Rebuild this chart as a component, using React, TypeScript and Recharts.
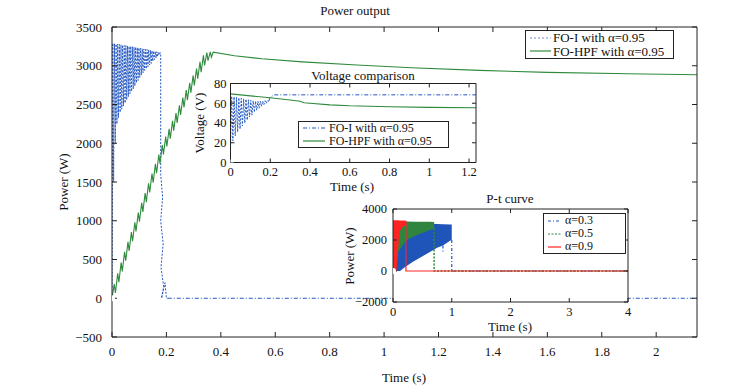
import React from 'react';
import { ComposedChart, Line, Area, XAxis, YAxis, CartesianGrid, Legend } from 'recharts';

const FONT = '"Liberation Serif", "Times New Roman", Times, serif';
const BLUE = '#2358c4';
const LBLUE = '#6f8fd8';
const GREEN = '#2e8b3c';
const RED = '#ff2424';
const AXIS = '#222';

// ---------------- main chart: Power output ----------------
const mainTimeTicks = [0, 0.2, 0.4, 0.6, 0.8, 1, 1.2, 1.4, 1.6, 1.8, 2];
const mainPowerTicks = [-500, 0, 500, 1000, 1500, 2000, 2500, 3000, 3500];
const mainLegendLabels = ['FO-I with α=0.95', 'FO-HPF with α=0.95'];

// FO-I (alpha = 0.95): [time s, power W]
const foIPower = [
  [0, 0], [0.003, 3290], [0.006, 1500], [0.009, 3285], [0.012, 2000], [0.015, 3280], [0.018, 2250],
  [0.021, 3280], [0.024, 2330], [0.027, 3275], [0.03, 2400], [0.033, 3270], [0.036, 2440], [0.039, 3265],
  [0.042, 2480], [0.045, 3260], [0.048, 2520], [0.051, 3260], [0.054, 2560], [0.057, 3255], [0.06, 2600],
  [0.063, 3250], [0.066, 2640], [0.069, 3250], [0.072, 2670], [0.075, 3245], [0.078, 2700], [0.081, 3240],
  [0.084, 2740], [0.087, 3240], [0.09, 2780], [0.093, 3235], [0.096, 2810], [0.099, 3230], [0.102, 2850],
  [0.105, 3225], [0.108, 2880], [0.111, 3220], [0.114, 2910], [0.117, 3215], [0.12, 2940], [0.123, 3210],
  [0.126, 2960], [0.129, 3210], [0.132, 2990], [0.135, 3205], [0.138, 3010], [0.141, 3200], [0.144, 3030],
  [0.147, 3195], [0.15, 3060], [0.153, 3190], [0.156, 3080], [0.159, 3185], [0.162, 3100], [0.165, 3180],
  [0.168, 3120], [0.171, 3175], [0.174, 3140], [0.177, 3170],
  [0.179, 3150], [0.179, 1600], [0.186, 1300], [0.179, 1000], [0.188, 700], [0.18, 400], [0.19, 150],
  [0.182, 0], [0.195, 200], [0.2, 0], [0.205, 0],
];
const foIPowerFlat = [[0.205, 0], [2.15, 0]];

// FO-HPF (alpha = 0.95): [time s, power W]
const foHpfPower = [
  [0, 0], [0.0084, 183], [0.0126, 70], [0.021, 322], [0.0252, 207], [0.0336, 460], [0.0378, 346],
  [0.0462, 599], [0.0504, 484], [0.0588, 728], [0.063, 610], [0.0714, 854], [0.0756, 736], [0.084, 980],
  [0.0882, 862], [0.0966, 1106], [0.1008, 988], [0.1092, 1232], [0.1134, 1114], [0.1218, 1358],
  [0.126, 1240], [0.1344, 1484], [0.1386, 1366], [0.147, 1610], [0.1512, 1492], [0.1596, 1734],
  [0.1638, 1614], [0.1722, 1855], [0.1764, 1736], [0.1848, 1977], [0.189, 1857], [0.1974, 2085],
  [0.2016, 1958], [0.21, 2186], [0.2142, 2060], [0.2226, 2288], [0.2268, 2162], [0.2352, 2390],
  [0.2394, 2263], [0.2478, 2491], [0.252, 2365], [0.2604, 2589], [0.2646, 2461], [0.273, 2685],
  [0.2772, 2556], [0.2856, 2780], [0.2898, 2652], [0.2982, 2875], [0.3024, 2746], [0.3108, 2964],
  [0.315, 2832], [0.3234, 3050], [0.3276, 2918], [0.336, 3135], [0.3402, 3003], [0.3486, 3170],
  [0.3528, 3065], [0.3612, 3180], [0.3654, 3110], [0.372, 3175],
  [0.45, 3130], [0.55, 3090], [0.7, 3050], [0.9, 3010], [1.1, 2975], [1.35, 2940], [1.6, 2915],
  [1.9, 2897], [2.15, 2883],
];

// ---------------- inset 1: Voltage comparison ----------------
const voltTimeTicks = [0, 0.2, 0.4, 0.6, 0.8, 1, 1.2];
const voltTicks = [0, 20, 40, 60, 80];
const voltLegendLabels = ['FO-I with α=0.95', 'FO-HPF with α=0.95'];

const foIVoltOsc = [
  [0, 15], [0.006, 67], [0.012, 22], [0.018, 66.5], [0.024, 27], [0.03, 66], [0.036, 31], [0.042, 65.5],
  [0.048, 34], [0.054, 65], [0.06, 37], [0.066, 64.5], [0.072, 40], [0.078, 64], [0.084, 43], [0.09, 63.5],
  [0.096, 46], [0.102, 63], [0.108, 48], [0.114, 62.5], [0.12, 51], [0.126, 62], [0.132, 53], [0.138, 62],
  [0.144, 55], [0.15, 62], [0.156, 57], [0.162, 62], [0.168, 58.5], [0.174, 62.5], [0.18, 60], [0.186, 63],
  [0.192, 62],
];
const foIVoltFlat = [[0.192, 62], [0.2, 66], [0.22, 68.5], [1.235, 68.5]];
const foHpfVolt = [
  [0, 69.5], [0.1, 67.5], [0.2, 65.5], [0.3, 63.3], [0.35, 62], [0.37, 60.5], [0.4, 60], [0.5, 58.4],
  [0.6, 57.4], [0.8, 56.4], [1.0, 55.8], [1.235, 55.4],
];

// ---------------- inset 2: P-t curve ----------------
const ptTimeTicks = [0, 1, 2, 3, 4];
const ptPowerTicks = [-2000, 0, 2000, 4000];
const ptLegendLabels = ['α=0.3', 'α=0.5', 'α=0.9'];

// oscillation bands: [time, lower, upper]
const a03Band = [
  [0, 0, 3200], [0.12, 0, 3150], [0.2, 250, 3120], [0.34, 600, 3100], [0.57, 1100, 3070],
  [0.75, 1500, 3040], [0.85, 1650, 3020], [0.97, 1950, 3000], [1.0, 2000, 3000],
];
const a05Band = [
  [0, 0, 3250], [0.03, 60, 3230], [0.09, 1250, 3200], [0.23, 2000, 3190], [0.4, 2300, 3180],
  [0.63, 2650, 3170], [0.7, 2750, 3160],
];
const a09Band = [
  [0, 0, 3280], [0.06, 0, 3280], [0.09, 1500, 3270], [0.11, 2500, 3260], [0.15, 2800, 3260],
  [0.22, 2950, 3250],
];
const a03Tail = [[1.0, 2000], [1.0, 0], [4, 0]];
const a03Spike = [[0.85, 1650], [0.85, 1250]];
const a05Tail = [[0.7, 2750], [0.7, 0], [4, 0]];
const a09Tail = [[0.22, 3250], [0.22, 0], [4, 0]];

// anchor for the mirrored (box) axes
const boxAnchor = [[0, 0]];

// ---------------- helpers ----------------
const pts = (a: number[][]) => a.map(([t, v]) => ({ t, v }));
const band = (a: number[][]) => a.map(([t, lo, hi]) => ({ t, r: [lo, hi] }));
const minus = (v: number) => String(v).replace('-', '\u2212');
const blank = () => '';

type Item = { label: string; color: string; dash?: string; width?: number };

function LegendBox({ items, sampleW, gap, rowH, padL, padR, fontSize }: {
  items: Item[]; sampleW: number; gap: number; rowH: number; padL: number; padR: number; fontSize: number;
}) {
  return (
    <div style={{
      border: '1px solid #222', background: '#fff', padding: `0 ${padR}px 0 ${padL}px`,
      fontFamily: FONT, fontSize, color: '#111', boxSizing: 'border-box',
    }}>
      {items.map((it) => (
        <div key={it.label} style={{ display: 'flex', alignItems: 'center', height: rowH, whiteSpace: 'nowrap', overflow: 'hidden' }}>
          <svg width={sampleW} height={8} style={{ marginRight: gap, flex: 'none' }}>
            <line x1={0} y1={4} x2={sampleW} y2={4} stroke={it.color} strokeWidth={it.width ?? 1.2}
              strokeDasharray={it.dash} />
          </svg>
          <span style={{ lineHeight: `${rowH}px` }}>{it.label}</span>
        </div>
      ))}
    </div>
  );
}

function Txt({ x, y, children, rot, size = 13 }: { x: number; y: number; children: React.ReactNode; rot?: boolean; size?: number }) {
  return (
    <div style={{
      position: 'absolute', left: x, top: y, fontFamily: FONT, fontSize: size, lineHeight: 1,
      whiteSpace: 'nowrap', color: '#111',
      transform: `translate(-50%, -50%)${rot ? ' rotate(-90deg)' : ''}`,
    }}>{children}</div>
  );
}

const tickStyle = (size: number) => ({ fill: '#111', fontSize: size, fontFamily: FONT });

function MainChart() {
  const dom: [number, number] = [0, 2.15];
  const ydom: [number, number] = [-500, 3500];
  return (
    <ComposedChart width={750} height={390} margin={{ top: 26, right: 52, bottom: 23, left: 62 }}>
      <XAxis dataKey="t" type="number" domain={dom} ticks={mainTimeTicks} interval={0} height={30}
        tickSize={-5} tickMargin={15} stroke={AXIS} tick={tickStyle(13)} allowDataOverflow />
      <XAxis xAxisId="top" orientation="top" dataKey="t" type="number" domain={dom} ticks={mainTimeTicks}
        interval={0} height={1} tickSize={-5} tickMargin={0} stroke={AXIS} tickFormatter={blank} allowDataOverflow />
      <YAxis type="number" domain={ydom} ticks={mainPowerTicks} interval={0} width={50} tickSize={-5}
        tickMargin={15} stroke={AXIS} tick={tickStyle(13)} tickFormatter={minus} allowDataOverflow />
      <YAxis yAxisId="right" orientation="right" type="number" domain={ydom} ticks={mainPowerTicks}
        interval={0} width={1} tickSize={-5} tickMargin={0} stroke={AXIS} tickFormatter={blank} allowDataOverflow />
      <Line data={pts(boxAnchor)} xAxisId="top" yAxisId="right" dataKey="v" stroke="none" dot={false}
        activeDot={false} isAnimationActive={false} legendType="none" />
      <Line data={pts(foIPower)} dataKey="v" type="linear" stroke={BLUE} strokeWidth={1}
        strokeDasharray="2 1.5" dot={false} activeDot={false} isAnimationActive={false} name={mainLegendLabels[0]} />
      <Line data={pts(foIPowerFlat)} dataKey="v" type="linear" stroke={BLUE} strokeWidth={1}
        strokeDasharray="4 2 1 2" dot={false} activeDot={false} isAnimationActive={false} />
      <Line data={pts(foHpfPower)} dataKey="v" type="linear" stroke={GREEN} strokeWidth={1.1}
        dot={false} activeDot={false} isAnimationActive={false} name={mainLegendLabels[1]} />
      <Legend layout="horizontal" verticalAlign="middle" align="center"
        wrapperStyle={{ left: 525, top: 30, width: 149 }}
        content={() => (
          <LegendBox sampleW={21} gap={2} rowH={13.5} padL={4} padR={2} fontSize={13} items={[
            { label: mainLegendLabels[0], color: LBLUE, dash: '2 2' },
            { label: mainLegendLabels[1], color: GREEN },
          ]} />
        )} />
    </ComposedChart>
  );
}

function VoltChart() {
  const dom: [number, number] = [0, 1.235];
  const ydom: [number, number] = [0, 80];
  return (
    <ComposedChart width={300} height={130} margin={{ top: 22.5, right: 13, bottom: 7.5, left: 10.5 }}>
      <CartesianGrid horizontal={false} vertical={false} fill="#fff" />
      <XAxis dataKey="t" type="number" domain={dom} ticks={voltTimeTicks} interval={0} height={20}
        tickSize={-4} tickMargin={8.5} stroke={AXIS} tick={tickStyle(12.5)} allowDataOverflow />
      <XAxis xAxisId="top" orientation="top" dataKey="t" type="number" domain={dom} ticks={voltTimeTicks}
        interval={0} height={1} tickSize={-4} tickMargin={0} stroke={AXIS} tickFormatter={blank} allowDataOverflow />
      <YAxis type="number" domain={ydom} ticks={voltTicks} interval={0} width={30} tickSize={-4}
        tickMargin={8} stroke={AXIS} tick={tickStyle(12.5)} allowDataOverflow />
      <YAxis yAxisId="right" orientation="right" type="number" domain={ydom} ticks={voltTicks}
        interval={0} width={1} tickSize={-4} tickMargin={0} stroke={AXIS} tickFormatter={blank} allowDataOverflow />
      <Line data={pts(boxAnchor)} xAxisId="top" yAxisId="right" dataKey="v" stroke="none" dot={false}
        activeDot={false} isAnimationActive={false} legendType="none" />
      <Line data={pts(foIVoltOsc)} dataKey="v" type="linear" stroke={BLUE} strokeWidth={1}
        strokeDasharray="2 1.5" dot={false} activeDot={false} isAnimationActive={false} />
      <Line data={pts(foIVoltFlat)} dataKey="v" type="linear" stroke={BLUE} strokeWidth={1}
        strokeDasharray="4 2 1 2" dot={false} activeDot={false} isAnimationActive={false} />
      <Line data={pts(foHpfVolt)} dataKey="v" type="linear" stroke={GREEN} strokeWidth={1.1}
        dot={false} activeDot={false} isAnimationActive={false} />
      <Legend layout="horizontal" verticalAlign="middle" align="center"
        wrapperStyle={{ left: 108, top: 61, width: 151 }}
        content={() => (
          <LegendBox sampleW={22} gap={4} rowH={12.5} padL={4} padR={2} fontSize={12} items={[
            { label: voltLegendLabels[0], color: BLUE, dash: '4 2 1 2' },
            { label: voltLegendLabels[1], color: GREEN },
          ]} />
        )} />
    </ComposedChart>
  );
}

function PtChart() {
  const dom: [number, number] = [0, 4];
  const ydom: [number, number] = [-2000, 4000];
  return (
    <ComposedChart width={300} height={135} margin={{ top: 13, right: 11, bottom: 8, left: 13 }}>
      <CartesianGrid horizontal={false} vertical={false} fill="#fff" />
      <XAxis dataKey="t" type="number" domain={dom} ticks={ptTimeTicks} interval={0} height={20}
        tickSize={-4} tickMargin={9.5} stroke={AXIS} tick={tickStyle(12.5)} allowDataOverflow />
      <XAxis xAxisId="top" orientation="top" dataKey="t" type="number" domain={dom} ticks={ptTimeTicks}
        interval={0} height={1} tickSize={-4} tickMargin={0} stroke={AXIS} tickFormatter={blank} allowDataOverflow />
      <YAxis type="number" domain={ydom} ticks={ptPowerTicks} interval={0} width={40} tickSize={-4}
        tickMargin={10} stroke={AXIS} tick={tickStyle(12.5)} tickFormatter={minus} allowDataOverflow />
      <YAxis yAxisId="right" orientation="right" type="number" domain={ydom} ticks={ptPowerTicks}
        interval={0} width={1} tickSize={-4} tickMargin={0} stroke={AXIS} tickFormatter={blank} allowDataOverflow />
      <Line data={pts(boxAnchor)} xAxisId="top" yAxisId="right" dataKey="v" stroke="none" dot={false}
        activeDot={false} isAnimationActive={false} legendType="none" />
      <Area data={band(a03Band)} dataKey="r" type="linear" stroke="none" fill="#1f55b8" fillOpacity={1}
        dot={false} activeDot={false} isAnimationActive={false} />
      <Line data={pts(a03Spike)} dataKey="v" type="linear" stroke={BLUE} strokeWidth={1.2}
        strokeDasharray="3 2 1 2" dot={false} activeDot={false} isAnimationActive={false} />
      <Line data={pts(a03Tail)} dataKey="v" type="linear" stroke={BLUE} strokeWidth={1.2}
        strokeDasharray="3 2 1 2" dot={false} activeDot={false} isAnimationActive={false} />
      <Area data={band(a05Band)} dataKey="r" type="linear" stroke="none" fill="#2f8540" fillOpacity={1}
        dot={false} activeDot={false} isAnimationActive={false} />
      <Line data={pts(a05Tail)} dataKey="v" type="linear" stroke={GREEN} strokeWidth={1.5}
        strokeDasharray="2 1.5" dot={false} activeDot={false} isAnimationActive={false} />
      <Area data={band(a09Band)} dataKey="r" type="linear" stroke="none" fill={RED} fillOpacity={1}
        dot={false} activeDot={false} isAnimationActive={false} />
      <Line data={pts(a09Tail)} dataKey="v" type="linear" stroke={RED} strokeWidth={1.2}
        dot={false} activeDot={false} isAnimationActive={false} />
      <Legend layout="horizontal" verticalAlign="middle" align="center"
        wrapperStyle={{ left: 203, top: 18, width: 83 }}
        content={() => (
          <LegendBox sampleW={13} gap={4} rowH={13} padL={4} padR={2} fontSize={12} items={[
            { label: ptLegendLabels[0], color: BLUE, dash: '3 2 1 2' },
            { label: ptLegendLabels[1], color: GREEN, dash: '2 1.5' },
            { label: ptLegendLabels[2], color: RED },
          ]} />
        )} />
    </ComposedChart>
  );
}

export default function App() {
  return (
    <div style={{ position: 'absolute', left: 0, top: 0, width: 750, height: 390, background: '#fff', overflow: 'hidden' }}>
      <div style={{ position: 'absolute', left: 0, top: 0 }}><MainChart /></div>
      <div style={{ position: 'absolute', left: 190, top: 60 }}><VoltChart /></div>
      <div style={{ position: 'absolute', left: 340, top: 195 }}><PtChart /></div>
      <Txt x={355} y={10}>Power output</Txt>
      <Txt x={404} y={377}>Time (s)</Txt>
      <Txt x={63} y={182} rot>Power (W)</Txt>
      <Txt x={363} y={75}>Voltage comparison</Txt>
      <Txt x={352} y={186}>Time (s)</Txt>
      <Txt x={199} y={123} rot>Voltage (V)</Txt>
      <Txt x={510} y={198}>P-t curve</Txt>
      <Txt x={510} y={326}>Time (s)</Txt>
      <Txt x={349} y={256} rot>Power (W)</Txt>
    </div>
  );
}
